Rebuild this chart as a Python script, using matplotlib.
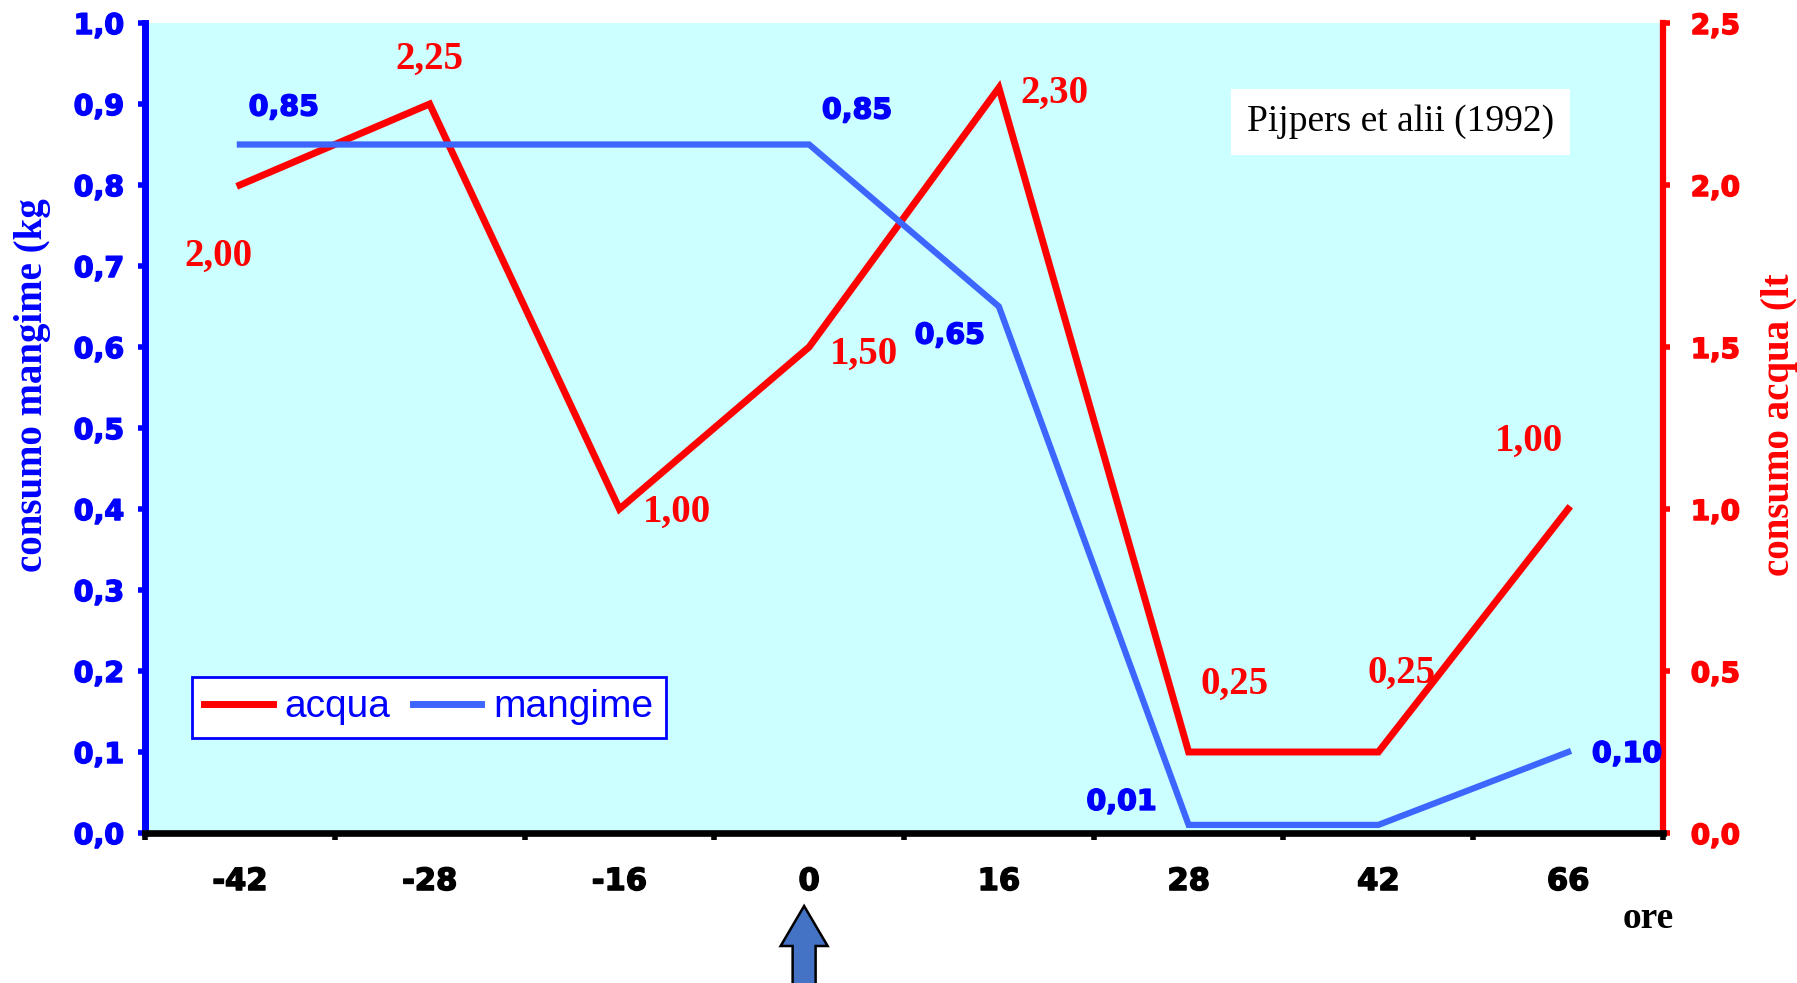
import matplotlib
matplotlib.use('Agg')
import matplotlib.pyplot as plt
import matplotlib.patheffects as pe
from matplotlib.patches import Polygon
from matplotlib.lines import Line2D

# ---- data ----
hours = ['-42', '-28', '-16', '0', '16', '28', '42', '66']
acqua = [2.00, 2.25, 1.00, 1.50, 2.30, 0.25, 0.25, 1.00]
mangime = [0.85, 0.85, 0.85, 0.85, 0.65, 0.01, 0.01, 0.10]
acqua_labels = ['2,00', '2,25', '1,00', '1,50', '2,30', '0,25', '0,25', '1,00']
mangime_label_idx = [0, 3, 4, 5, 7]
mangime_labels = ['0,85', '0,85', '0,65', '0,01', '0,10']
left_ticks = [0.0, 0.1, 0.2, 0.3, 0.4, 0.5, 0.6, 0.7, 0.8, 0.9, 1.0]
left_ticklabels = ['0,0', '0,1', '0,2', '0,3', '0,4', '0,5', '0,6', '0,7', '0,8', '0,9', '1,0']
right_ticks = [0.0, 0.5, 1.0, 1.5, 2.0, 2.5]
right_ticklabels = ['0,0', '0,5', '1,0', '1,5', '2,0', '2,5']

# ---- styling ----
W, H = 1797, 983
BLUE_TXT = '#0000FF'
BLUE_LINE = '#3D66FF'
RED = '#FF0000'
BG = '#CCFFFF'
SERIF = ['Liberation Serif', 'DejaVu Serif']
SANS = ['DejaVu Sans']
LEG = ['Liberation Sans', 'DejaVu Sans']


def heavy(color):
    return [pe.withStroke(linewidth=1.1, foreground=color)]


AX_TOP, AX_BOT, AX_L, AX_R = 23, 833, 145, 1663

fig = plt.figure(figsize=(W / 100, H / 100), dpi=100)
ax = fig.add_axes([AX_L / W, (H - AX_BOT) / H, (AX_R - AX_L) / W, (AX_BOT - AX_TOP) / H])
ax2 = ax.twinx()
ax.set_zorder(2)
ax.patch.set_visible(False)
ax2.set_zorder(1)
ax2.patch.set_visible(True)
ax2.patch.set_facecolor(BG)

x = list(range(len(hours)))
ax2.plot(x, acqua, color=RED, lw=5, solid_joinstyle='miter', zorder=3)
ax.plot(x, mangime, color=BLUE_LINE, lw=4.5, solid_joinstyle='miter', zorder=3)

ax.set_xlim(-0.5, len(hours) - 0.5)
ax.set_ylim(0, 1.0)
ax2.set_ylim(0, 2.5)

# spines
for s in ['top', 'right']:
    ax.spines[s].set_visible(False)
ax.spines['left'].set_color(BLUE_TXT)
ax.spines['left'].set_linewidth(5)
ax.spines['bottom'].set_color('black')
ax.spines['bottom'].set_linewidth(4.8)
for s in ['top', 'left', 'bottom']:
    ax2.spines[s].set_visible(False)
ax2.spines['right'].set_color(RED)
ax2.spines['right'].set_linewidth(4.5)

# x ticks
ax.set_xticks(x)
ax.set_xticklabels(hours)
ax.set_xticks([i - 0.5 for i in range(len(hours) + 1)], minor=True)
ax.tick_params(axis='x', which='major', length=0, pad=24.5)
ax.tick_params(axis='x', which='minor', length=5, width=4, color='black', direction='out')
for t in ax.get_xticklabels():
    t.set_fontfamily(SANS)
    t.set_fontweight('bold')
    t.set_fontsize(22)
    t.set_color('black')
    t.set_path_effects(heavy('black'))

# left y ticks
ax.set_yticks(left_ticks)
ax.set_yticklabels(left_ticklabels)
ax.tick_params(axis='y', length=5, width=4, color=BLUE_TXT, pad=10, direction='out')
for t in ax.get_yticklabels():
    t.set_fontfamily(SANS)
    t.set_fontweight('bold')
    t.set_fontsize(20.5)
    t.set_color(BLUE_TXT)
    t.set_path_effects(heavy(BLUE_TXT))

# right y ticks
ax2.set_yticks(right_ticks)
ax2.set_yticklabels(right_ticklabels)
ax2.tick_params(axis='y', length=5, width=4, color=RED, pad=15, direction='out')
for t in ax2.get_yticklabels():
    t.set_fontfamily(SANS)
    t.set_fontweight('bold')
    t.set_fontsize(20)
    t.set_color(RED)
    t.set_path_effects(heavy(RED))

# data labels
red_off = [(-21, -71), (0, 45), (58, -3), (55, -7), (56, -6), (46, 68), (23, 79), (-39, 68)]
for i, (lab, off) in enumerate(zip(acqua_labels, red_off)):
    ax2.annotate(lab, (x[i], acqua[i]), xytext=off, textcoords='offset pixels',
                 ha='center', va='center', color=RED, fontsize=28,
                 fontweight='bold', family=SERIF)
blue_off = [(44, 37), (48, 34), (-49, -29), (-67, 23), (59, -2)]
for idx, lab, off in zip(mangime_label_idx, mangime_labels, blue_off):
    ax.annotate(lab, (x[idx], mangime[idx]), xytext=off, textcoords='offset pixels',
                ha='center', va='center', color=BLUE_TXT, fontsize=20.5,
                fontweight='bold', family=SANS, path_effects=heavy(BLUE_TXT))

# legend
handles = [Line2D([], [], color=RED, lw=5), Line2D([], [], color=BLUE_LINE, lw=5)]
leg = ax.legend(handles, ['acqua', 'mangime'], ncol=2, loc='upper left',
                bbox_to_anchor=(192 / W, (H - 677) / H), bbox_transform=fig.transFigure,
                borderaxespad=0, frameon=True, fancybox=False, framealpha=1,
                edgecolor=BLUE_TXT, facecolor='white',
                prop={'family': LEG, 'size': 28}, labelcolor=BLUE_TXT,
                handlelength=1.75, handletextpad=0.3, columnspacing=0.6, borderpad=0.32)
leg.get_frame().set_linewidth(2)

# source box
ax.text(0.827, 0.878, 'Pijpers et alii (1992)', transform=ax.transAxes,
        ha='center', va='center', fontsize=27, family=SERIF, color='black',
        bbox=dict(boxstyle='square,pad=0.42', facecolor='white', edgecolor='none'))

# axis titles
fig.text(33 / W, 1 - 385 / H, 'consumo mangime (kg', rotation=90, ha='center', va='center',
         fontsize=28, fontweight='bold', family=SERIF, color=BLUE_TXT)
fig.text(1779 / W, 1 - 425 / H, 'consumo acqua (lt', rotation=90, ha='center', va='center',
         fontsize=28, fontweight='bold', family=SERIF, color=RED)
fig.text(1648 / W, 1 - 918 / H, 'ore', ha='center', va='center',
         fontsize=27, fontweight='bold', family=SERIF, color='black')

# arrow under hour 0
cx = ax.transData.transform((x[hours.index('0')], 0))[0] - 5
pts_px = [(cx, 906), (cx + 23.5, 946), (cx + 11.5, 946), (cx + 11.5, 990),
          (cx - 11.5, 990), (cx - 11.5, 946), (cx - 23.5, 946)]
pts = [(px / W, 1 - py / H) for px, py in pts_px]
fig.patches.append(Polygon(pts, closed=True, transform=fig.transFigure,
                           facecolor='#4472C4', edgecolor='black', lw=1.8, figure=fig))

fig.savefig('out.png', dpi=100)
